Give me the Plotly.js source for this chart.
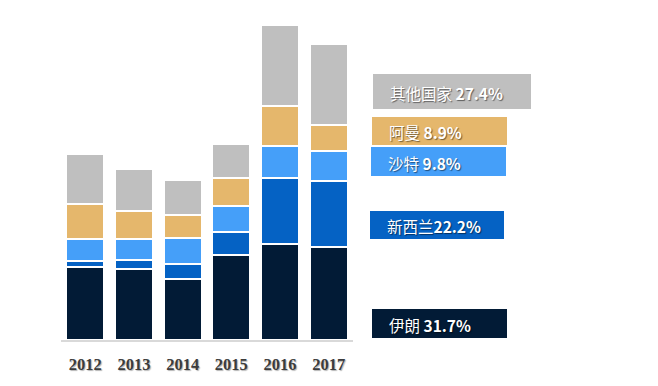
<!DOCTYPE html>
<html>
<head>
<meta charset="utf-8">
<script src="https://cdn.plot.ly/plotly-3.0.1.min.js"></script>
<style>html,body{margin:0;padding:0;background:#fff;}#chart{width:658px;height:386px;}</style>
</head>
<body>
<div id="chart"></div>
<script>
// ---- data ----
const years = ['2012', '2013', '2014', '2015', '2016', '2017'];
const iran       = [73, 71, 61, 85, 96, 93];     // 伊朗
const newZealand = [6.5, 9.3, 15, 23, 66, 66];   // 新西兰
const saudi      = [21.7, 20.9, 26, 26, 32, 30]; // 沙特
const oman       = [34.8, 27.8, 22.8, 28, 40, 26]; // 阿曼
const others     = [50, 42, 35, 34, 81, 81];     // 其他国家

const seriesNames = ['伊朗', '新西兰', '沙特', '阿曼', '其他国家'];
const shareLabels = ['31.7%', '22.2%', '9.8%', '8.9%', '27.4%'];
const seriesValues = [iran, newZealand, saudi, oman, others];
const colors = ['#021b36', '#0562c4', '#459ff9', '#e5b76c', '#bfbfbf'];

// ---- layout geometry (pixels) ----
const W = 658, H = 386;
const L = 61, R = 353, T = 20, B = 340;
const px = x => (x - L) / (R - L);
const py = y => (B - y) / (B - T);

// label boxes: [left, top, right, bottom]
const boxes = [
  [372, 309, 507, 338],
  [370, 211, 504, 239],
  [371, 147, 506, 176],
  [372, 117, 507, 145],
  [373, 74, 531, 109]
];
const seps = [' ', '', ' ', ' ', ' '];

const traces = seriesValues.map((vals, i) => ({
  type: 'bar',
  x: years,
  y: vals,
  name: seriesNames[i],
  marker: { color: colors[i], line: { color: '#ffffff', width: 2 } },
  hoverinfo: 'x+y+name'
}));

const shapes = boxes.map((b, i) => ({
  type: 'rect', xref: 'paper', yref: 'paper',
  x0: px(b[0]), x1: px(b[2]), y0: py(b[3]), y1: py(b[1]),
  fillcolor: colors[i], line: { width: 0 }, layer: 'above'
}));

const annotations = boxes.map((b, i) => ({
  xref: 'paper', yref: 'paper',
  x: px(b[0] + 15), y: py((b[1] + b[3]) / 2 + 1),
  xanchor: 'left', yanchor: 'middle',
  text: seriesNames[i] + seps[i] + '<b>' + shareLabels[i] + '</b>',
  showarrow: false,
  font: { family: '"Noto Sans CJK SC", "DejaVu Sans", sans-serif', size: 15.5, color: '#ffffff',
          shadow: '1px 1px 1px rgba(0,0,0,0.5)' }
}));

const layout = {
  width: W, height: H,
  margin: { l: L, r: W - R, t: T, b: H - B },
  paper_bgcolor: '#ffffff', plot_bgcolor: '#ffffff',
  barmode: 'stack',
  bargap: 0.22,
  showlegend: false,
  xaxis: {
    type: 'category',
    range: [-0.5, 5.5],
    showline: true, linecolor: '#d9d9d9', linewidth: 1.5,
    showgrid: false, zeroline: false, ticks: '',
    ticklabelstandoff: 9,
    tickfont: { family: '"Liberation Serif", "DejaVu Serif", serif', size: 16.5, color: '#3c3c3c', weight: 'bold',
                shadow: '1px 1px 1px rgba(0,0,0,0.3)' },
    fixedrange: true
  },
  yaxis: { visible: false, range: [0, B - T], fixedrange: true },
  shapes: shapes,
  annotations: annotations
};

Plotly.newPlot('chart', traces, layout, { displayModeBar: false, staticPlot: true });
</script>
</body>
</html>
